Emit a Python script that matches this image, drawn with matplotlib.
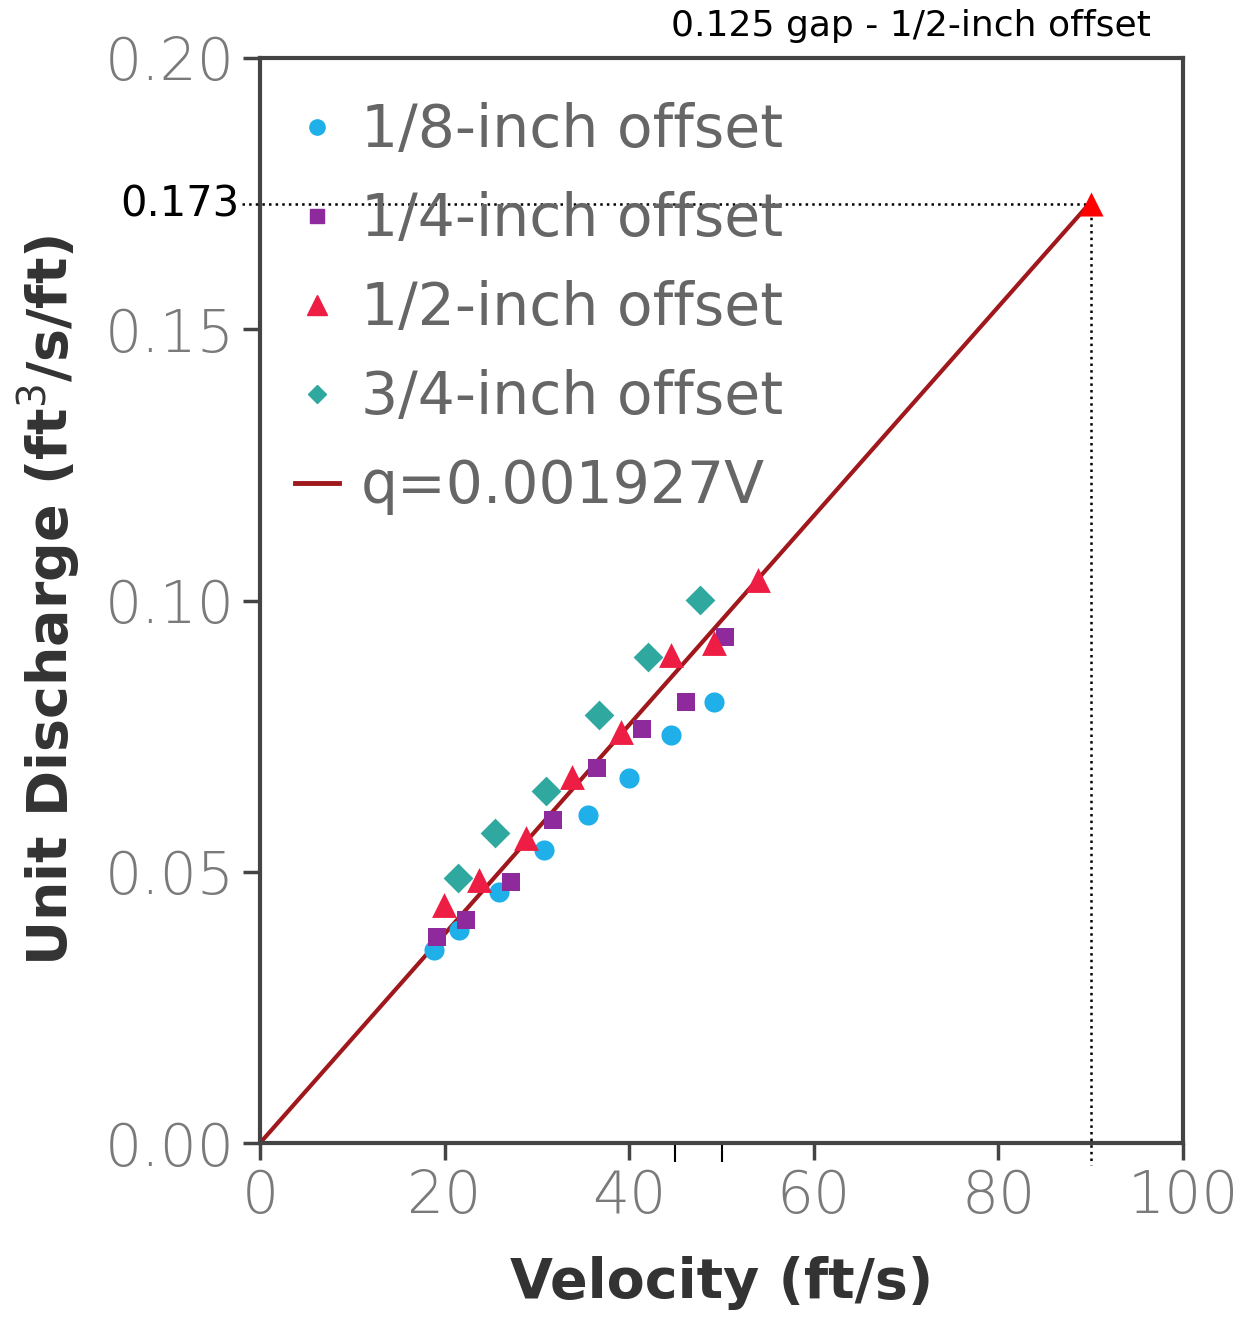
import matplotlib
matplotlib.use("Agg")
import matplotlib.pyplot as plt
from matplotlib.lines import Line2D

# ── Data ──────────────────────────────────────────────────────────────────────
v_eighth = [18.9, 21.6, 25.9, 30.8, 35.5, 40.0, 44.5, 49.2]
q_eighth = [0.0356, 0.0393, 0.0463, 0.0540, 0.0605, 0.0672, 0.0752, 0.0813]

v_quarter = [19.2, 22.3, 27.2, 31.7, 36.5, 41.4, 46.1, 50.4]
q_quarter = [0.0380, 0.0411, 0.0482, 0.0595, 0.0691, 0.0764, 0.0813, 0.0933]

v_half = [19.9, 23.7, 28.8, 33.8, 39.1, 44.5, 49.2, 54.0]
q_half = [0.0439, 0.0485, 0.0562, 0.0675, 0.0758, 0.0900, 0.0921, 0.1038]

v_3q = [21.4, 25.5, 31.0, 36.7, 42.0, 47.7]
q_3q = [0.0488, 0.0571, 0.0648, 0.0789, 0.0896, 0.1001]

fit_coef = 0.001927
fit_v = [0, 90]
fit_q = [fit_coef * v for v in fit_v]

target_v = 90
target_q = 0.173

extra_ticks = [45, 50]

# ── Style ─────────────────────────────────────────────────────────────────────
C_CYAN = "#1FB0EA"
C_PURPLE = "#8E2A9C"
C_RED = "#EE1D43"
C_TEAL = "#2FA8A0"
C_FIT = "#A0181C"
C_TICK = "#7A7A7A"
C_LABEL = "#333333"

fig = plt.figure(figsize=(12.5, 13.21), dpi=100, facecolor="white")
ax = fig.add_axes([0.208, 0.1347, 0.7384, 0.8214])

ax.plot(fit_v, fit_q, color=C_FIT, lw=3, zorder=2)
ax.scatter(v_eighth, q_eighth, s=210, marker="o", color=C_CYAN, lw=0, zorder=3)
ax.scatter(v_quarter, q_quarter, s=180, marker="s", color=C_PURPLE, lw=0, zorder=3)
ax.scatter(v_half, q_half, s=320, marker="^", color=C_RED, lw=0, zorder=4)
ax.scatter(v_3q, q_3q, s=230, marker="D", color=C_TEAL, lw=0, zorder=3)

# highlighted design point
ax.scatter([target_v], [target_q], s=300, marker="^", color="#FF0000", lw=0,
           zorder=5, clip_on=False)
ax.plot([-2, target_v], [target_q, target_q], color="black", ls=":", lw=1.8,
        clip_on=False, zorder=4)
ax.plot([target_v, target_v], [target_q, -0.004], color="black", ls=":", lw=1.8,
        clip_on=False, zorder=4)
ax.text(-2.2, target_q, "0.173", ha="right", va="center", fontsize=30,
        color="black")
fig.text(0.729, 0.980, "0.125 gap - 1/2-inch offset", ha="center", va="center",
         fontsize=26, color="black")

ax.set_xlim(0, 100)
ax.set_ylim(0, 0.20)
ax.set_xticks([0, 20, 40, 60, 80, 100])
ax.set_yticks([0, 0.05, 0.10, 0.15, 0.20])
ax.set_yticklabels(["0.00", "0.05", "0.10", "0.15", "0.20"])
ax.set_xticks(extra_ticks, minor=True)

for s in ax.spines.values():
    s.set_color("#444444")
    s.set_linewidth(3)

ax.tick_params(which="major", direction="out", length=12, width=2.5,
               color="#444444", labelsize=42, labelcolor=C_TICK, pad=6)
ax.tick_params(which="minor", direction="out", length=14, width=1.5,
               color="black")
for t in ax.get_xticklabels() + ax.get_yticklabels():
    t.set_fontweight("light")

ax.set_xlabel("Velocity (ft/s)", fontsize=40, fontweight="bold",
              color=C_LABEL, labelpad=22)
ax.set_ylabel("Unit Discharge (ft$^3$/s/ft)", fontsize=40, fontweight="bold",
              color=C_LABEL, labelpad=16)

handles = [
    Line2D([], [], marker="o", ls="", color=C_CYAN, ms=11),
    Line2D([], [], marker="s", ls="", color=C_PURPLE, ms=10),
    Line2D([], [], marker="^", ls="", color=C_RED, ms=14),
    Line2D([], [], marker="D", ls="", color=C_TEAL, ms=9),
    Line2D([], [], color=C_FIT, lw=3.5),
]
labels = ["1/8-inch offset", "1/4-inch offset", "1/2-inch offset",
          "3/4-inch offset", "q=0.001927V"]
leg = ax.legend(handles, labels, loc="upper left", bbox_to_anchor=(0.013, 0.981),
                frameon=False, fontsize=42, handlelength=0.75, handletextpad=0.38,
                labelspacing=0.55, borderaxespad=0)
for t in leg.get_texts():
    t.set_color("#666666")

fig.savefig("out.png", dpi=100, facecolor="white")
